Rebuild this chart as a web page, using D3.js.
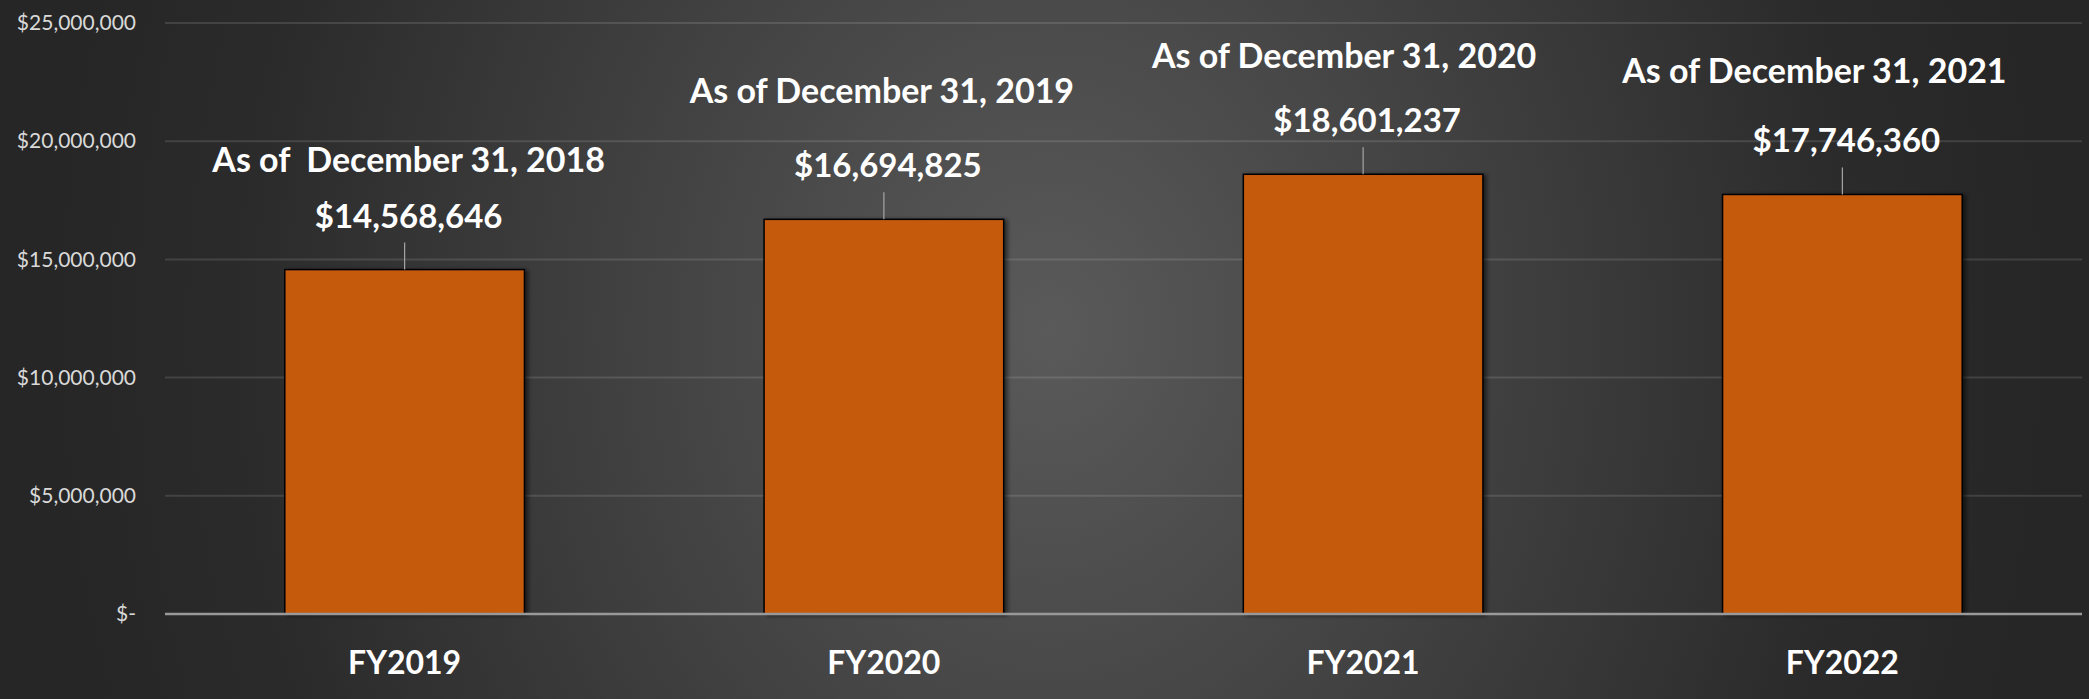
<!DOCTYPE html>
<html>
<head>
<meta charset="utf-8">
<script src="https://cdn.jsdelivr.net/npm/d3@7"></script>
<style>
  html, body { margin: 0; padding: 0; background: #262626; }
  svg { display: block; }
</style>
</head>
<body>
<svg id="chart" width="2089" height="699"></svg>
<script>
// ---- data ----
const categories = ["FY2019", "FY2020", "FY2021", "FY2022"];
const values = [14568646, 16694825, 18601237, 17746360];
const asOfLabels = ["As of  December 31, 2018", "As of December 31, 2019", "As of December 31, 2020", "As of December 31, 2021"];
const yTicks = [0, 5000000, 10000000, 15000000, 20000000, 25000000];
const yTickLabels = ["$-", "$5,000,000", "$10,000,000", "$15,000,000", "$20,000,000", "$25,000,000"];

// manual placement of the "As of" annotations (dx from bar centre, dy from value label baseline)
const asOfNudgeX = [4, -2, -19, -28];
const asOfNudgeY = [-56, -74, -64, -69];

const W = 2089, H = 699;
const svg = d3.select("#chart");
const FONT = "Lato, 'Open Sans', sans-serif";

// background gradient
const defs = svg.append("defs");
const rg = defs.append("radialGradient")
  .attr("id", "bg").attr("gradientUnits", "userSpaceOnUse")
  .attr("cx", 1050).attr("cy", 330).attr("r", 1000)
  .attr("gradientTransform", "translate(1050,330) scale(1,1.2) translate(-1050,-330)");
rg.append("stop").attr("offset", 0).attr("stop-color", "#5a5a5a");
rg.append("stop").attr("offset", 0.8).attr("stop-color", "#2b2b2b");
rg.append("stop").attr("offset", 1).attr("stop-color", "#262626");

const shadow = defs.append("filter").attr("id", "shadow")
  .attr("x", "-10%").attr("y", "-10%").attr("width", "130%").attr("height", "130%");
shadow.append("feDropShadow").attr("dx", 3).attr("dy", 1).attr("stdDeviation", 2)
  .attr("flood-color", "#000").attr("flood-opacity", 0.55);

svg.append("rect").attr("width", W).attr("height", H).attr("fill", "url(#bg)");

// scales
const x = d3.scaleBand().domain(categories).range([165, 2082])
  .paddingInner(0.5).paddingOuter(0.25);
const y = d3.scaleLinear().domain([0, 25000000]).range([614, 23]);

// gridlines
svg.append("g").selectAll("line").data(yTicks.slice(1)).join("line")
  .attr("x1", 165).attr("x2", 2082)
  .attr("y1", d => y(d)).attr("y2", d => y(d))
  .attr("stroke", "#ffffff").attr("stroke-opacity", 0.12).attr("stroke-width", 2);

// y axis labels
const yAxis = d3.axisLeft(y).tickValues(yTicks)
  .tickFormat((d, i) => yTickLabels[i]).tickSize(0).tickPadding(0);
const gy = svg.append("g").attr("transform", "translate(136,0)").call(yAxis);
gy.select(".domain").remove();
gy.selectAll("text").attr("fill", "#d9d9d9")
  .style("font-family", FONT).style("font-size", "21px");

// bars
svg.append("g").selectAll("rect").data(values).join("rect")
  .attr("x", (d, i) => x(categories[i]))
  .attr("y", d => y(d))
  .attr("width", x.bandwidth())
  .attr("height", d => y(0) - y(d))
  .attr("fill", "#c55a11")
  .attr("stroke", "#000").attr("stroke-width", 1.5)
  .attr("filter", "url(#shadow)");

// baseline
svg.append("line").attr("x1", 165).attr("x2", 2082)
  .attr("y1", y(0)).attr("y2", y(0))
  .attr("stroke", "#999999").attr("stroke-width", 2.5);

// x axis labels
const xAxis = d3.axisBottom(x).tickSize(0).tickPadding(0);
const gx = svg.append("g").attr("transform", "translate(0,674)").call(xAxis);
gx.select(".domain").remove();
gx.selectAll("text").attr("dy", 0).attr("fill", "#ffffff")
  .style("font-family", FONT).style("font-size", "32px").style("font-weight", 700);

// leader lines
const cx = i => x(categories[i]) + x.bandwidth() / 2;
svg.append("g").selectAll("line").data(values).join("line")
  .attr("x1", (d, i) => cx(i)).attr("x2", (d, i) => cx(i))
  .attr("y1", d => y(d) - 27).attr("y2", d => y(d))
  .attr("stroke", "#a6a6a6").attr("stroke-width", 1.2);

// value labels
const fmt = d3.format("$,");
svg.append("g").selectAll("text").data(values).join("text")
  .attr("x", (d, i) => cx(i) + 4)
  .attr("y", d => y(d) - 42)
  .attr("text-anchor", "middle")
  .attr("fill", "#ffffff")
  .style("font-family", FONT).style("font-size", "33px").style("font-weight", 700)
  .text(d => fmt(d));

// "As of" labels
svg.append("g").selectAll("text").data(values).join("text")
  .attr("x", (d, i) => cx(i) + asOfNudgeX[i])
  .attr("y", (d, i) => y(d) - 42 + asOfNudgeY[i])
  .attr("text-anchor", "middle")
  .attr("fill", "#ffffff")
  .style("font-family", FONT).style("font-size", "34px").style("font-weight", 700)
  .style("white-space", "pre")
  .text((d, i) => asOfLabels[i]);
</script>
</body>
</html>
